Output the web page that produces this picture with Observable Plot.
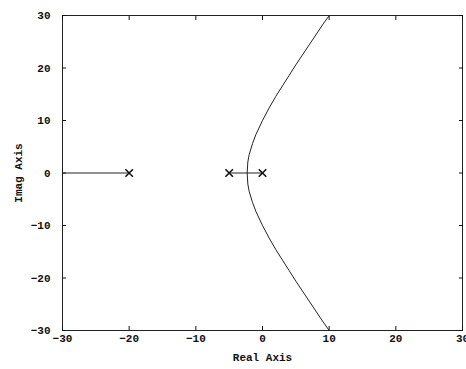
<!DOCTYPE html>
<html>
<head>
<meta charset="utf-8">
<script src="https://cdn.jsdelivr.net/npm/d3@7"></script>
<script src="https://cdn.jsdelivr.net/npm/@observablehq/plot@0.6"></script>
<style>
  html, body { margin: 0; padding: 0; background: #fff; }
  #chart { width: 466px; height: 369px; }
</style>
</head>
<body>
<div id="chart"></div>
<script>
// Tick values
const xTicks = [-30, -20, -10, 0, 10, 20, 30];
const yTicks = [-30, -20, -10, 0, 10, 20, 30];

// Open-loop poles (marked with x)
const poleRe = [-20, -5, 0];
const poleIm = [0, 0, 0];

// Branch 1: from pole -5 to breakaway, then upper complex branch
const b1Re = [-5, -2.3, -2.2, -2.0, -1.5, -1, 0, 1, 2, 3, 4, 5, 6, 7, 8, 9, 10];
const b1Im = [0, 0, 2.1, 3.5, 5.6, 7.3, 10, 12.4, 14.6, 16.6, 18.6, 20.6, 22.5, 24.4, 26.3, 28.2, 30];

// Branch 2: from pole 0 to breakaway, then lower complex branch
const b2Re = [0, -2.3, -2.2, -2.0, -1.5, -1, 0, 1, 2, 3, 4, 5, 6, 7, 8, 9, 10];
const b2Im = [0, 0, -2.1, -3.5, -5.6, -7.3, -10, -12.4, -14.6, -16.6, -18.6, -20.6, -22.5, -24.4, -26.3, -28.2, -30];

// Branch 3: from pole -20 along negative real axis
const b3Re = [-20, -30];
const b3Im = [0, 0];

const toPts = (re, im, id) => re.map((r, i) => ({re: r, im: im[i], id}));
const locus = [
  ...toPts(b1Re, b1Im, "b1"),
  ...toPts(b2Re, b2Im, "b2"),
  ...toPts(b3Re, b3Im, "b3")
];
const poles = toPts(poleRe, poleIm, "p");

const font = "'Liberation Mono', 'DejaVu Sans Mono', monospace";

const chart = Plot.plot({
  width: 466,
  height: 369,
  marginLeft: 62,
  marginRight: 4,
  marginTop: 15,
  marginBottom: 39,
  style: {fontFamily: font, fontSize: "11px", fontWeight: "bold", background: "#fff", color: "#111"},
  x: {domain: [-30, 30]},
  y: {domain: [-30, 30]},
  marks: [
    Plot.frame({stroke: "#222", strokeWidth: 1}),
    Plot.axisX({anchor: "bottom", ticks: xTicks, tickSize: -4, tickPadding: 8, label: "Real Axis", labelAnchor: "center", labelArrow: "none", labelOffset: 30}),
    Plot.axisX({anchor: "top", ticks: xTicks, tickSize: -4, tickFormat: () => "", label: null}),
    Plot.axisY({anchor: "left", ticks: yTicks, tickSize: -4, tickPadding: 16, label: "Imag Axis", labelAnchor: "center", labelArrow: "none", labelOffset: 48}),
    Plot.axisY({anchor: "right", ticks: yTicks, tickSize: -4, tickFormat: () => "", label: null}),
    Plot.line(locus, {x: "re", y: "im", z: "id", stroke: "#222", strokeWidth: 1}),
    Plot.dot(poles, {x: "re", y: "im", symbol: "times", r: 3.5, stroke: "#111", strokeWidth: 1.6})
  ]
});
document.getElementById("chart").appendChild(chart);
</script>
</body>
</html>
